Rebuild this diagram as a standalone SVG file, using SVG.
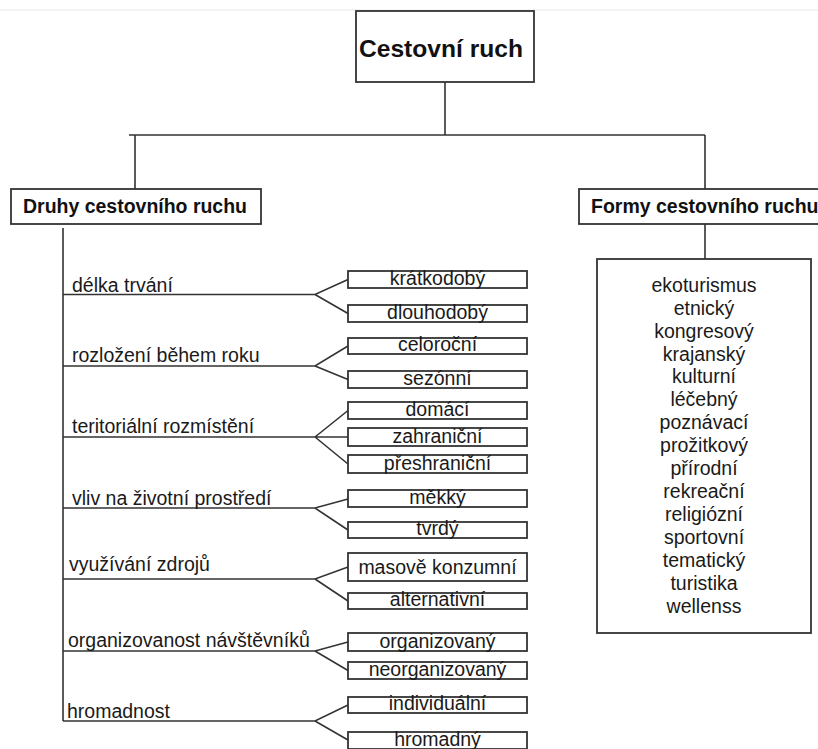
<svg xmlns="http://www.w3.org/2000/svg" width="818" height="749" viewBox="0 0 818 749">
<style>
  .ln{stroke:#333;stroke-width:1.6;fill:none}
  .bx{fill:#fff;stroke:#333;stroke-width:1.8}
  .hd{font-family:"Liberation Sans",Arial,sans-serif;font-weight:bold;fill:#111}
  .t{font-family:"Liberation Sans",Arial,sans-serif;font-size:19.5px;fill:#1a1a1a}
  .c{text-anchor:middle}
</style>
<rect x="0" y="0" width="818" height="749" fill="#fff"/>
<line x1="0" y1="10" x2="818" y2="10" stroke="#efefef" stroke-width="1.5"/>
<g id="connectors">
  <path class="ln" d="M445 82 V135 M129 135 H705 M135 135 V189 M705 135 V189 M705 224 V259 M63 228 V721"/>
  <path class="ln" d="M63 294.5 H315 L348 279.5 M315 294.5 L348 313.5"/>
  <path class="ln" d="M63 366 H315 L348 346 M315 366 L348 379.5"/>
  <path class="ln" d="M63 437 H348 M315 437 L348 410.5 M315 437 L348 464"/>
  <path class="ln" d="M63 508 H315 L348 499 M315 508 L348 530"/>
  <path class="ln" d="M63 579 H315 L348 567 M315 579 L348 601"/>
  <path class="ln" d="M63 651 H315 L348 642 M315 651 L348 670.5"/>
  <path class="ln" d="M63 721 H315 L348 705 M315 721 L348 740"/>
</g>
<g id="root">
  <rect class="bx" x="356" y="11" width="178" height="71"/>
  <text class="hd c" x="441" y="57" font-size="24.5" textLength="164" lengthAdjust="spacingAndGlyphs">Cestovní ruch</text>
</g>
<g id="druhy">
  <rect class="bx" x="11" y="189" width="250" height="35"/>
  <text class="hd" x="23" y="213" font-size="19.5" textLength="224" lengthAdjust="spacingAndGlyphs">Druhy cestovního ruchu</text>
</g>
<g id="formy">
  <rect class="bx" x="579" y="189" width="250" height="35"/>
  <text class="hd" x="591" y="213" font-size="19.5">Formy cestovního ruchu</text>
</g>
<g id="formy-list">
  <rect class="bx" x="597" y="259" width="214" height="374"/>
  <g class="t c">
    <text x="704" y="292">ekoturismus</text>
    <text x="704" y="315">etnický</text>
    <text x="704" y="338">kongresový</text>
    <text x="704" y="361">krajanský</text>
    <text x="704" y="383">kulturní</text>
    <text x="704" y="406">léčebný</text>
    <text x="704" y="429">poznávací</text>
    <text x="704" y="452">prožitkový</text>
    <text x="704" y="475">přírodní</text>
    <text x="704" y="498">rekreační</text>
    <text x="704" y="521">religiózní</text>
    <text x="704" y="544">sportovní</text>
    <text x="704" y="567">tematický</text>
    <text x="704" y="590">turistika</text>
    <text x="704" y="613">wellenss</text>
  </g>
</g>
<g id="labels" class="t">
  <text x="72" y="292">délka trvání</text>
  <text x="72" y="362">rozložení během roku</text>
  <text x="72" y="433">teritoriální rozmístění</text>
  <text x="72" y="505">vliv na životní prostředí</text>
  <text x="69" y="571">využívání zdrojů</text>
  <text x="68" y="647">organizovanost návštěvníků</text>
  <text x="67" y="718">hromadnost</text>
</g>
<g id="n-kratkodoby"><rect class="bx" x="348" y="271" width="179" height="17"/><text class="t c" x="437.5" y="285">krátkodobý</text></g>
<g id="n-dlouhodoby"><rect class="bx" x="348" y="305" width="179" height="17"/><text class="t c" x="437.5" y="319">dlouhodobý</text></g>
<g id="n-celorocni"><rect class="bx" x="348" y="338" width="179" height="16"/><text class="t c" x="437.5" y="351">celoroční</text></g>
<g id="n-sezonni"><rect class="bx" x="348" y="371" width="179" height="17"/><text class="t c" x="437.5" y="385">sezónní</text></g>
<g id="n-domaci"><rect class="bx" x="348" y="402" width="179" height="17"/><text class="t c" x="437.5" y="416">domácí</text></g>
<g id="n-zahranicni"><rect class="bx" x="348" y="428" width="179" height="18"/><text class="t c" x="437.5" y="443">zahraniční</text></g>
<g id="n-preshranicni"><rect class="bx" x="348" y="455" width="179" height="18"/><text class="t c" x="437.5" y="470">přeshraniční</text></g>
<g id="n-mekky"><rect class="bx" x="348" y="490" width="179" height="17"/><text class="t c" x="437.5" y="504">měkký</text></g>
<g id="n-tvrdy"><rect class="bx" x="348" y="522" width="179" height="16"/><text class="t c" x="437.5" y="535">tvrdý</text></g>
<g id="n-masove"><rect class="bx" x="348" y="553" width="179" height="28"/><text class="t c" x="437.5" y="574">masově konzumní</text></g>
<g id="n-alternativni"><rect class="bx" x="348" y="593" width="179" height="16"/><text class="t c" x="437.5" y="606">alternativní</text></g>
<g id="n-organizovany"><rect class="bx" x="348" y="633" width="179" height="18"/><text class="t c" x="437.5" y="648">organizovaný</text></g>
<g id="n-neorganizovany"><rect class="bx" x="348" y="662" width="179" height="17"/><text class="t c" x="437.5" y="676">neorganizovaný</text></g>
<g id="n-individualni"><rect class="bx" x="348" y="697" width="179" height="16"/><text class="t c" x="437.5" y="710">individuální</text></g>
<g id="n-hromadny"><rect class="bx" x="348" y="732" width="179" height="17"/><text class="t c" x="437.5" y="746">hromadný</text></g>
</svg>
